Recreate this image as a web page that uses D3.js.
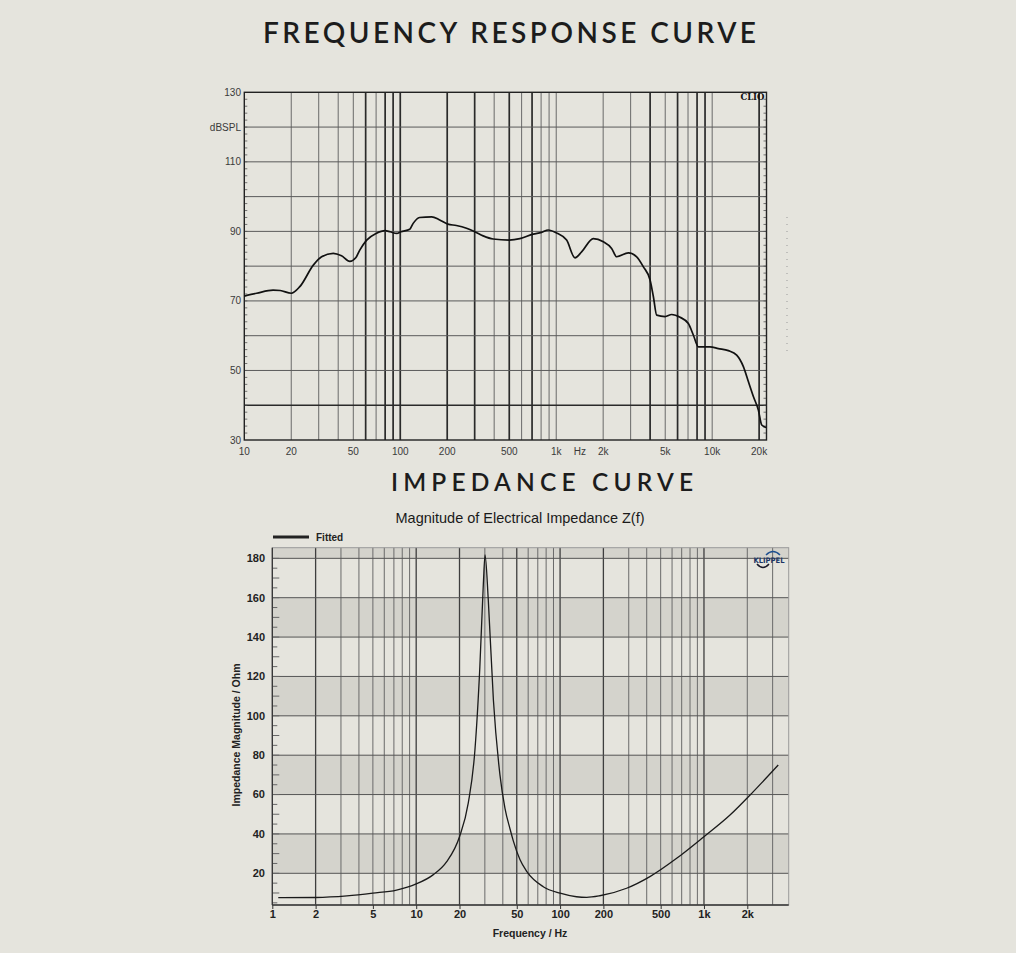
<!DOCTYPE html>
<html lang="en">
<head>
<meta charset="UTF-8">
<title>Frequency response and impedance</title>
<script src="https://d3js.org/d3.v7.min.js"></script>
<style>
  body { margin: 0; background: #e5e4dd; }
  svg { display: block; }
  .heading { font-family: Lato, "Open Sans", sans-serif; font-weight: 600; fill: #1c1c1c; }
  .clio-tick { font-family: Arial, "Liberation Sans", sans-serif; font-size: 10px; fill: #3a3a3a; }
  .kl-tick { font-family: Arial, "Liberation Sans", sans-serif; font-size: 11px; font-weight: bold; fill: #222; }
</style>
</head>
<body>
<div id="chart"></div>
<script>
// --- frequency response (CLIO) ---
const frFreq = [10, 12, 15.3, 17, 20, 22.7, 27.7, 31.3, 37.2, 42, 47.5, 52, 55, 60.9, 70, 80, 86, 95, 101,
  115, 121, 133, 159, 179, 202, 229, 266, 300, 340, 394, 500, 585, 712, 805, 889, 1000, 1166, 1319, 1455,
  1729, 2005, 2266, 2441, 2900, 3281, 3622, 3997, 4198, 4408, 4988, 5500, 6223, 7034, 7570, 8150, 9680,
  10960, 12700, 14360, 15850, 17060, 18370, 19780, 20790, 22180];
const frDb = [71.4, 72.2, 73.1, 73.0, 72.2, 74.1, 80.3, 82.7, 83.7, 83.0, 81.4, 82.5, 84.6, 87.5, 89.4, 90.2, 89.9, 89.4, 89.9,
  90.6, 92.3, 94.0, 94.2, 93.3, 92.1, 91.7, 90.9, 89.9, 88.7, 87.8, 87.5, 87.9, 89.2, 89.7, 90.4, 89.6, 87.5, 82.4, 84.1,
  87.9, 87.0, 85.1, 82.7, 83.8, 82.7, 79.8, 76.0, 71.2, 65.9, 65.5, 66.1, 65.3, 63.5, 60.2, 56.8, 56.8,
  56.3, 55.7, 54.4, 51.1, 46.8, 42.5, 38.6, 34.3, 33.6];
const frTickVals = [10, 20, 50, 100, 200, 500, 1000, 1420, 2000, 5000, 10000, 20000];
const frTickText = ["10", "20", "50", "100", "200", "500", "1k", "Hz", "2k", "5k", "10k", "20k"];
const frYVals = [130, 120, 110, 90, 70, 50, 30];
const frYText = ["130", "dBSPL", "110", "90", "70", "50", "30"];
const frHeavy = [60, 80, 90, 100, 200, 300, 500, 700, 4000, 6000, 8000, 9000, 20000];

// --- impedance (KLIPPEL) ---
const zFreq = [1.1, 2, 3.3, 5, 7.3, 10, 13.1, 16.3, 20, 23, 25.6, 27.7, 29.3, 30.1, 31.7, 34.4, 38.2, 41.4,
  44.9, 47.3, 52.6, 58.6, 76.4, 100, 130, 153, 189, 290, 421, 646, 1000, 1517, 2203, 3282];
const zOhm = [7.6, 7.7, 8.5, 9.9, 11.5, 14.6, 19.2, 25.9, 38.6, 55.6, 82.6, 124.9, 167.3, 181.7, 158.8, 108, 70, 53,
  42.5, 36.5, 27, 21, 13.2, 9.9, 8.1, 7.8, 8.6, 12.4, 18.3, 27.6, 38.6, 49.6, 61.5, 75.0];
const zTickVals = [1, 2, 5, 10, 20, 50, 100, 200, 500, 1000, 2000];
const zTickText = ["1", "2", "5", "10", "20", "50", "100", "200", "500", "1k", "2k"];
const zYVals = [20, 40, 60, 80, 100, 120, 140, 160, 180];
const zBands = [[20, 40], [60, 80], [100, 120], [140, 160], [180, 185.4]];
const zHeavy = [2, 10, 20, 50, 100, 200, 1000];

const svg = d3.select("#chart").append("svg").attr("width", 1016).attr("height", 953);

// headings
svg.append("text").attr("class", "heading").attr("x", 263).attr("y", 43)
  .attr("font-size", 28).attr("textLength", 493).attr("lengthAdjust", "spacing")
  .text("FREQUENCY RESPONSE CURVE");
svg.append("text").attr("class", "heading").attr("x", 391).attr("y", 491)
  .attr("font-size", 24.5).attr("textLength", 302).attr("lengthAdjust", "spacing")
  .text("IMPEDANCE CURVE");

// ================= top chart =================
const xF = d3.scaleLog().domain([10, 22300]).range([244.3, 766.5]);
const yF = d3.scaleLinear().domain([30, 130]).range([440, 92.3]);
const gTop = svg.append("g");

const frGrid = xF.ticks().filter(f => f > 10 && f < 22300);
gTop.selectAll(".vgrid").data(frGrid).enter().append("line")
  .attr("x1", d => xF(d)).attr("x2", d => xF(d))
  .attr("y1", yF(130)).attr("y2", yF(30))
  .attr("stroke", d => frHeavy.includes(d) ? "#2a2a2a" : "#6a6a6a")
  .attr("stroke-width", d => frHeavy.includes(d) ? 1.7 : 1);

gTop.selectAll(".hgrid").data(d3.range(40, 130, 10)).enter().append("line")
  .attr("x1", xF.range()[0]).attr("x2", xF.range()[1])
  .attr("y1", d => yF(d)).attr("y2", d => yF(d))
  .attr("stroke", d => d === 40 ? "#2a2a2a" : "#5a5a5a")
  .attr("stroke-width", d => d === 40 ? 1.6 : 1);

// minor ticks on left and right borders
const frMinor = d3.range(32, 130, 2);
gTop.selectAll(".lt").data(frMinor).enter().append("line")
  .attr("x1", xF.range()[0]).attr("x2", xF.range()[0] + 3)
  .attr("y1", d => yF(d)).attr("y2", d => yF(d))
  .attr("stroke", "#555").attr("stroke-width", 0.8);
gTop.selectAll(".rt").data(frMinor).enter().append("line")
  .attr("x1", xF.range()[1]).attr("x2", xF.range()[1] - 3)
  .attr("y1", d => yF(d)).attr("y2", d => yF(d))
  .attr("stroke", "#555").attr("stroke-width", 0.8);

gTop.append("rect")
  .attr("x", xF.range()[0]).attr("y", yF(130))
  .attr("width", xF.range()[1] - xF.range()[0]).attr("height", yF(30) - yF(130))
  .attr("fill", "none").attr("stroke", "#222").attr("stroke-width", 1.4);

gTop.selectAll(".ylab").data(frYVals).enter().append("text")
  .attr("class", "clio-tick")
  .attr("x", 241).attr("y", d => yF(d)).attr("dy", "0.35em")
  .attr("text-anchor", "end")
  .text((d, i) => frYText[i]);

gTop.selectAll(".xlab").data(frTickVals).enter().append("text")
  .attr("class", "clio-tick")
  .attr("x", d => xF(d)).attr("y", 455)
  .attr("text-anchor", "middle")
  .text((d, i) => frTickText[i]);

gTop.append("text").attr("x", 764.5).attr("y", 100).attr("text-anchor", "end")
  .attr("font-family", "'DejaVu Serif', serif").attr("font-weight", "bold").attr("font-size", 8.5)
  .attr("fill", "#111").text("CLIO");

// faint dotted mark right of the chart
gTop.append("line").attr("x1", 787).attr("x2", 787).attr("y1", 217).attr("y2", 355)
  .attr("stroke", "#999").attr("stroke-width", 1).attr("stroke-dasharray", "1 6");

const frData = frFreq.map((f, i) => ({ f: f, v: frDb[i] }));
gTop.append("path").datum(frData)
  .attr("fill", "none").attr("stroke", "#111").attr("stroke-width", 1.7)
  .attr("stroke-linejoin", "round")
  .attr("d", d3.line().x(d => xF(d.f)).y(d => yF(d.v)).curve(d3.curveMonotoneX));

// ================= bottom chart =================
const xZ = d3.scaleLog().domain([1, 3880]).range([272.3, 788.7]);
const yZ = d3.scaleLinear().domain([3.9, 185.4]).range([905, 547.7]);
const gBot = svg.append("g");

gBot.append("text").attr("x", 520).attr("y", 523).attr("text-anchor", "middle")
  .attr("font-family", "Arial, 'Liberation Sans', sans-serif").attr("font-size", 14.5)
  .attr("fill", "#1a1a1a").text("Magnitude of Electrical Impedance Z(f)");

// legend
gBot.append("line").attr("x1", 273).attr("x2", 309).attr("y1", 537).attr("y2", 537)
  .attr("stroke", "#222").attr("stroke-width", 3);
gBot.append("text").attr("x", 316).attr("y", 540.5)
  .attr("font-family", "Arial, 'Liberation Sans', sans-serif").attr("font-size", 10)
  .attr("font-weight", "bold").attr("fill", "#222").text("Fitted");

gBot.selectAll(".band").data(zBands).enter().append("rect")
  .attr("x", xZ.range()[0]).attr("width", xZ.range()[1] - xZ.range()[0])
  .attr("y", d => yZ(d[1])).attr("height", d => yZ(d[0]) - yZ(d[1]))
  .attr("fill", "#d4d3cc");

const zGrid = xZ.ticks().filter(f => f > 1 && f < 3880);
gBot.selectAll(".vgrid").data(zGrid).enter().append("line")
  .attr("x1", d => xZ(d)).attr("x2", d => xZ(d))
  .attr("y1", yZ.range()[1]).attr("y2", yZ.range()[0])
  .attr("stroke", d => zHeavy.includes(d) ? "#3e3e3e" : "#6a6a6a")
  .attr("stroke-width", d => zHeavy.includes(d) ? 1.3 : 1);

gBot.selectAll(".hgrid").data(zYVals).enter().append("line")
  .attr("x1", xZ.range()[0]).attr("x2", xZ.range()[1])
  .attr("y1", d => yZ(d)).attr("y2", d => yZ(d))
  .attr("stroke", "#555").attr("stroke-width", 1);

gBot.selectAll(".lt").data(d3.range(5, 185, 5)).enter().append("line")
  .attr("x1", xZ.range()[0]).attr("x2", d => xZ.range()[0] + (d % 10 === 0 ? 7 : 5))
  .attr("y1", d => yZ(d)).attr("y2", d => yZ(d))
  .attr("stroke", "#666").attr("stroke-width", 1);

gBot.append("rect")
  .attr("x", xZ.range()[0]).attr("y", yZ.range()[1])
  .attr("width", xZ.range()[1] - xZ.range()[0]).attr("height", yZ.range()[0] - yZ.range()[1])
  .attr("fill", "none").attr("stroke", "#9a9a9a").attr("stroke-width", 1);
gBot.append("line").attr("x1", xZ.range()[0]).attr("x2", xZ.range()[1])
  .attr("y1", yZ.range()[0]).attr("y2", yZ.range()[0]).attr("stroke", "#333").attr("stroke-width", 1.3);
gBot.append("line").attr("x1", xZ.range()[0]).attr("x2", xZ.range()[0])
  .attr("y1", yZ.range()[1]).attr("y2", yZ.range()[0]).attr("stroke", "#333").attr("stroke-width", 1.3);

// bottom axis with outside ticks
const zAxis = d3.axisBottom(xZ).tickValues(zTickVals).tickSize(4)
  .tickFormat((d, i) => zTickText[i]);
const zAx = gBot.append("g").attr("transform", "translate(0," + yZ.range()[0] + ")").call(zAxis);
zAx.select(".domain").remove();
zAx.selectAll("line").attr("stroke", "#333");
zAx.selectAll("text").attr("class", "kl-tick").attr("dy", "0.55em");

gBot.selectAll(".ylab").data(zYVals).enter().append("text")
  .attr("class", "kl-tick")
  .attr("x", 265).attr("y", d => yZ(d)).attr("dy", "0.35em")
  .attr("text-anchor", "end").text(d => d);

gBot.append("text").attr("transform", "translate(240,735) rotate(-90)")
  .attr("text-anchor", "middle").attr("font-family", "Arial, 'Liberation Sans', sans-serif")
  .attr("font-size", 10.5).attr("font-weight", "bold").attr("fill", "#222")
  .text("Impedance Magnitude / Ohm");
gBot.append("text").attr("x", 530).attr("y", 937).attr("text-anchor", "middle")
  .attr("font-family", "Arial, 'Liberation Sans', sans-serif")
  .attr("font-size", 10.5).attr("font-weight", "bold").attr("fill", "#222")
  .text("Frequency / Hz");

// KLIPPEL mark
const logo = gBot.append("g").attr("transform", "translate(769,560)");
logo.append("path").attr("d", "M-3,-5 Q4,-12 11,-5").attr("fill", "none")
  .attr("stroke", "#1d4f8f").attr("stroke-width", 1.5);
logo.append("path").attr("d", "M-12,4 Q-6,11 0,4").attr("fill", "none")
  .attr("stroke", "#1a1a2a").attr("stroke-width", 1.5);
logo.append("text").attr("x", 0).attr("y", 2.8).attr("text-anchor", "middle")
  .attr("font-family", "'DejaVu Sans', Arial, sans-serif").attr("font-weight", "bold")
  .attr("font-size", 7.5).attr("textLength", 31).attr("lengthAdjust", "spacingAndGlyphs")
  .attr("fill", "#1b3566").text("KLIPPEL");

const zData = zFreq.map((f, i) => ({ f: f, v: zOhm[i] }));
gBot.append("path").datum(zData)
  .attr("fill", "none").attr("stroke", "#1a1a1a").attr("stroke-width", 1.3)
  .attr("d", d3.line().x(d => xZ(d.f)).y(d => yZ(d.v)).curve(d3.curveMonotoneX));
</script>
</body>
</html>
